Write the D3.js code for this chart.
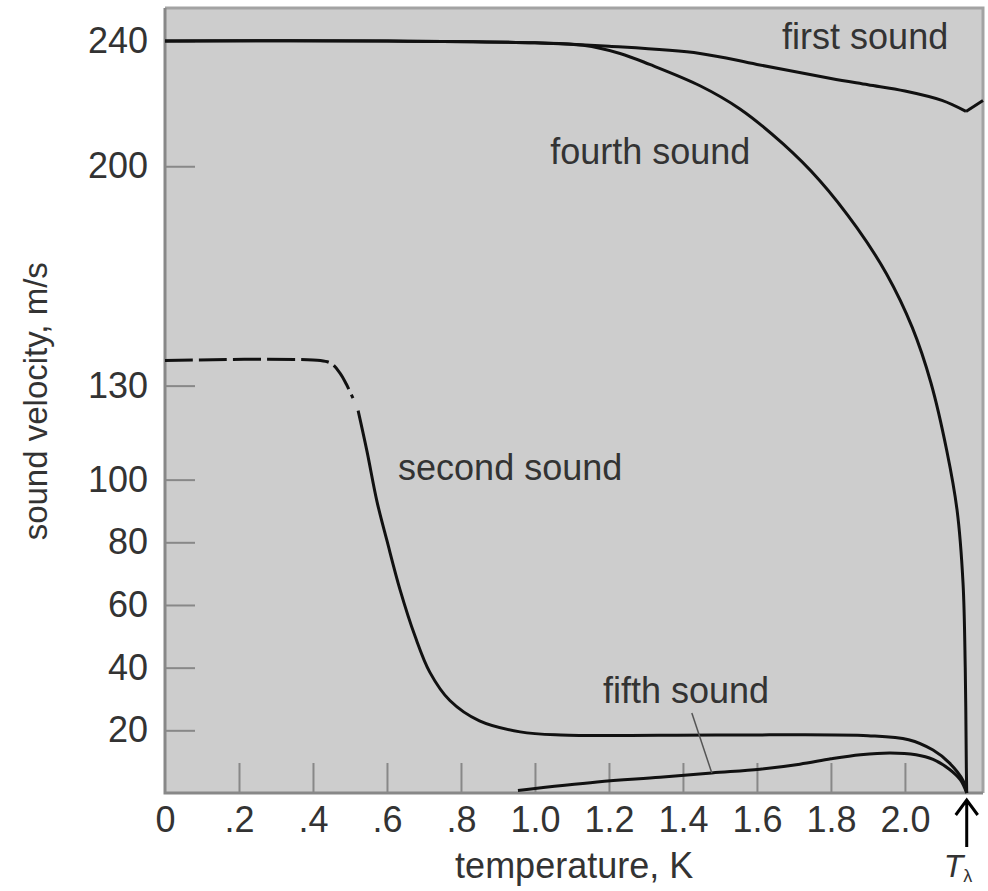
<!DOCTYPE html>
<html>
<head>
<meta charset="utf-8">
<script src="https://cdn.jsdelivr.net/npm/d3@7/dist/d3.min.js"></script>
<style>
  body { margin: 0; background: #fff; }
  text { font-family: "Liberation Sans", Arial, sans-serif; fill: #333; }
</style>
</head>
<body>
<div id="chart"></div>
<script>
// sound velocities in He II, [temperature K, velocity m/s]
const firstSound = [[0, 240], [0.6, 240], [1.0, 239.4], [1.2, 238.3], [1.446, 236], [1.6, 232.5],
  [1.8, 228], [1.9, 226], [2.0, 224], [2.1, 221], [2.165, 217.5]]
const firstSoundAbove = [[2.165, 217.5], [2.211, 221]]
const fourthSound = [[0, 240], [0.6, 240], [1.0, 239.4], [1.13, 238.6], [1.23, 236], [1.31, 232.5],
  [1.446, 225.7], [1.554, 218.3], [1.67, 207.2], [1.77, 195.4], [1.87, 180.4], [1.95, 165.7],
  [2.02, 148.5], [2.07, 131], [2.113, 109.3], [2.141, 90.2], [2.157, 67], [2.163, 40],
  [2.166, 8], [2.167, 0]]
const secondSoundDashed = [[0, 138], [0.42, 138], [0.45, 137], [0.473, 134], [0.49, 130.5], [0.508, 126]]
const secondSound = [[0.522, 122], [0.546, 109], [0.573, 93], [0.6, 80.5], [0.635, 65], [0.676, 50],
  [0.716, 38.5], [0.77, 29.5], [0.85, 23], [0.96, 19.5], [1.07, 18.5], [1.5, 18.5], [1.9, 18.3],
  [2.01, 17], [2.076, 13.7], [2.12, 9.6], [2.157, 4], [2.167, 0]]
const fifthSound = [[0.954, 0.8], [1.168, 3.5], [1.338, 5], [1.478, 6.4], [1.608, 7.6], [1.716, 9.2],
  [1.8, 10.9], [1.88, 12.2], [1.96, 12.8], [2.03, 12.2], [2.076, 10.7], [2.12, 7.6], [2.15, 4.2],
  [2.167, 0]]

const xTicks = [0, 0.2, 0.4, 0.6, 0.8, 1.0, 1.2, 1.4, 1.6, 1.8, 2.0]
const xTickLabels = ['0', '.2', '.4', '.6', '.8', '1.0', '1.2', '1.4', '1.6', '1.8', '2.0']
const yTicks = [20, 40, 60, 80, 100, 130, 200, 240]
const lambdaT = 2.167

const width = 988
const height = 891
const margin = {top: 8, right: 5, bottom: 98, left: 165}
const w = width - margin.left - margin.right
const h = height - margin.top - margin.bottom

const x = d3.scaleLinear().domain([0, 2.211]).range([0, w])
const y = d3.scaleLinear().domain([0, 250.5]).range([h, 0])

let svg = d3.select('#chart').append('svg')
  .attr('width', width)
  .attr('height', height)
  .append('g')
  .attr('transform', `translate(${margin.left},${margin.top})`)

// grey panel with its frame
svg.append('rect')
  .attr('width', w).attr('height', h)
  .attr('fill', '#cdcdcd')
svg.append('path')
  .attr('d', `M0,0H${w}V${h}`)
  .attr('fill', 'none').attr('stroke', '#a3a3a3').attr('stroke-width', 3)

// axes, ticks point inward
let gx = svg.append('g')
  .attr('transform', `translate(0,${h})`)
  .call(d3.axisBottom(x).tickValues(xTicks).tickSize(-30).tickPadding(13)
    .tickFormat((d, i) => xTickLabels[i]))
let gy = svg.append('g')
  .call(d3.axisLeft(y).tickValues(yTicks).tickSize(-30).tickPadding(17))

;[gx, gy].forEach(function (g) {
  g.select('.domain').remove()
  g.selectAll('.tick line').attr('stroke', '#888').attr('stroke-width', 2)
  g.selectAll('.tick text').style('font-size', '36px').attr('fill', '#333')
})
gx.selectAll('.tick').filter(d => d === 0).select('line').remove()

svg.append('path')
  .attr('d', `M0,0V${h}H${w}`)
  .attr('fill', 'none').attr('stroke', '#888').attr('stroke-width', 3)

// curves
const line = d3.line()
  .x(d => x(d[0]))
  .y(d => y(d[1]))
  .curve(d3.curveCatmullRom.alpha(0.5))

let curves = [
  {data: firstSound}, {data: firstSoundAbove}, {data: fourthSound},
  {data: secondSoundDashed, dash: '28,6'}, {data: secondSound}, {data: fifthSound}
]
svg.selectAll('.curve')
  .data(curves)
  .enter()
  .append('path')
  .attr('class', 'curve')
  .attr('d', d => line(d.data))
  .attr('fill', 'none')
  .attr('stroke', '#111')
  .attr('stroke-width', 3)
  .attr('stroke-dasharray', d => d.dash || null)

// curve names
let names = [
  {text: 'first sound', t: 1.668, v: 237.5},
  {text: 'fourth sound', t: 1.041, v: 200.8},
  {text: 'second sound', t: 0.63, v: 99.8},
  {text: 'fifth sound', t: 1.184, v: 28.7}
]
svg.selectAll('.name')
  .data(names)
  .enter()
  .append('text')
  .attr('class', 'name')
  .attr('x', d => x(d.t))
  .attr('y', d => y(d.v))
  .style('font-size', '36px')
  .text(d => d.text)

// leader from "fifth sound" to its curve
svg.append('line')
  .attr('x1', x(1.424)).attr('y1', y(25.5))
  .attr('x2', x(1.478)).attr('y2', y(6.4))
  .attr('stroke', '#555').attr('stroke-width', 1.5)

// axis titles
svg.append('text')
  .attr('x', x(1.106))
  .attr('y', h + 85)
  .attr('text-anchor', 'middle')
  .style('font-size', '36px')
  .text('temperature, K')

svg.append('text')
  .attr('transform', `translate(${47 - margin.left},${y(125)}) rotate(-90)`)
  .attr('text-anchor', 'middle')
  .style('font-size', '33px')
  .text('sound velocity, m/s')

// lambda point marker
let lx = x(lambdaT)
svg.append('path')
  .attr('d', `M${lx},${h + 54}V${h + 8}M${lx - 11},${h + 22}L${lx},${h + 7}L${lx + 11},${h + 22}`)
  .attr('fill', 'none').attr('stroke', '#000').attr('stroke-width', 3)
let tl = svg.append('text')
  .attr('x', lx - 23)
  .attr('y', h + 84)
  .style('font-size', '32px')
tl.append('tspan').style('font-style', 'italic').text('T')
tl.append('tspan').attr('dy', 5).style('font-size', '18px').text('λ')
</script>
</body>
</html>
